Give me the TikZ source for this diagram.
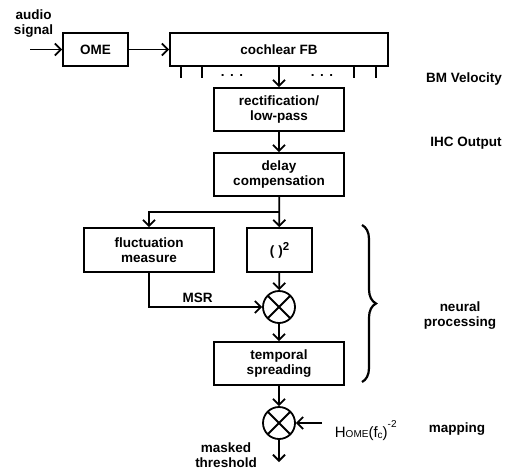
\documentclass[tikz,border=0pt]{standalone}
\usepackage{fontspec}
\setmainfont{Liberation Sans}
\usetikzlibrary{arrows.meta,decorations.pathreplacing}

\begin{document}
\begin{tikzpicture}[x=1pt,y=-1pt,line width=1.8pt,>={Straight Barb[length=6pt,width=12pt]},
		font=\fontsize{13.5}{15}\selectfont\bfseries,
		block/.style={draw,align=center,minimum width=130pt,minimum height=43pt,inner sep=2pt},
		mult/.style={draw,circle,minimum size=32pt,inner sep=0pt,
			path picture={\draw (path picture bounding box.north west)--(path picture bounding box.south east)
				(path picture bounding box.north east)--(path picture bounding box.south west);}}]
			\useasboundingbox (0,0) rectangle (516,471);
			% input stage
			\node[align=center] (audio) at (33.5,23.5) {audio\\signal};
			\coordinate (in) at (30,49.5);
			\node[block,minimum width=65pt,minimum height=33pt] (ome) at (95.5,49.5) {OME};
			\node[block,minimum width=218pt,minimum height=33pt] (cfb) at (279,49.5) {cochlear FB};
			\draw[->] (in) -- (ome);
			\draw[->] (ome) -- (cfb);
			% filterbank channels
			\foreach \dx in {12,33,185,207}
				\draw ([xshift=\dx]cfb.south west) -- ++(0,11);
			\node[anchor=base] (ldots) at (232,76) {.\hspace{5.5pt}.\hspace{5.5pt}.};
			\node[anchor=base] (rdots) at (322,76) {.\hspace{5.5pt}.\hspace{5.5pt}.};
			% one channel
			\node[block] (rect) at (279,109.5) {rectification/\\low-pass};
			\node[block] (delay) at (279,174.5) {delay\\compensation};
			\coordinate (split) at (279,212);
			\node[block,minimum height=44pt] (fluct) at (149,250) {fluctuation\\measure};
			\node[block,minimum width=65pt,minimum height=44pt] (sq) at (279.5,250) {(\hspace{4pt})\raisebox{5pt}{\fontsize{11.5}{11.5}\selectfont 2}};
			\node[mult] (m1) at (279,307) {};
			\node[block] (temp) at (279,363.5) {temporal\\spreading};
			\node[mult] (m2) at (279,423) {};
			\coordinate (hin) at (322,423);
			\coordinate (out) at (279,462);
			\draw[->] (cfb) -- (rect);
			\draw[->] (rect) -- (delay);
			\draw[->] (delay) -- (sq);
			\draw[->] (split) -| (fluct);
			\draw[->] (sq) -- (m1);
			\draw[->] (fluct) |- node[above,pos=.715] (msr) {MSR} (m1);
			\draw[->] (m1) -- (temp);
			\draw[->] (temp) -- (m2);
			\draw[->] (hin) -- (m2);
			\draw[->] (m2) -- (out);
			\node[anchor=base west,inner sep=0pt,font=\fontsize{15}{15}\selectfont\mdseries] (hgain) at (334,437)
				{H{\fontsize{10}{10}\selectfont OME}(f\raisebox{-1.5pt}{\fontsize{10}{10}\selectfont c})\raisebox{10pt}{\fontsize{10}{10}\selectfont -2}};
			\node[align=center] (mthr) at (226,455) {masked\\threshold};
			% stage labels
			\draw[decorate,decoration={brace,amplitude=14pt},line width=2.2pt] (362,225) -- (362,382);
			\node (bmv) at (464,79) {BM Velocity};
			\node (ihc) at (466,143) {IHC Output};
			\node[align=center] (neur) at (460,316) {neural\\processing};
			\node (map) at (457,429) {mapping};
		\end{tikzpicture}
\end{document}
